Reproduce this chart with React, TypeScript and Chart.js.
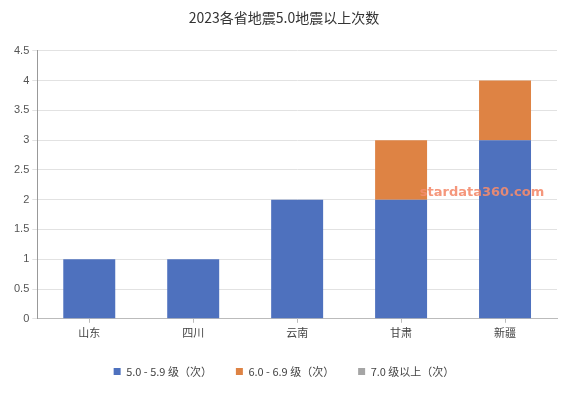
import React, { useEffect, useRef } from "react";
import { Chart, registerables } from "chart.js";

Chart.register(...registerables);

const title = "2023各省地震5.0地震以上次数";
const categories = ["山东", "四川", "云南", "甘肃", "新疆"];
const seriesNames = ["5.0 - 5.9 级（次）", "6.0 - 6.9 级（次）", "7.0 级以上（次）"];
const series1 = [1, 1, 2, 2, 3];
const series2 = [0, 0, 0, 1, 1];
const series3 = [0, 0, 0, 0, 0];
const colors = ["#4E71BE", "#DE8344", "#A5A5A5"];
const watermark = "stardata360.com";

const FONT = "'Noto Sans CJK SC', 'Noto Sans', sans-serif";

export default function App() {
  const ref = useRef<HTMLCanvasElement>(null);
  useEffect(() => {
    if (!ref.current) return;
    const wm = {
      id: "wm",
      afterDraw(chart: any) {
        const ctx = chart.ctx;
        const xs = chart.scales.x;
        const ys = chart.scales.y;
        ctx.save();
        ctx.font = "bold 13px 'DejaVu Sans', sans-serif";
        ctx.fillStyle = "rgba(244,140,110,0.9)";
        ctx.textAlign = "center";
        ctx.textBaseline = "middle";
        const x = (xs.getPixelForValue(3) + xs.getPixelForValue(4)) / 2 + 29;
        ctx.fillText(watermark, x, ys.getPixelForValue(2.12));
        ctx.restore();
      },
    };
    const data = [series1, series2, series3];
    const chart = new Chart(ref.current, {
      type: "bar",
      data: {
        labels: categories,
        datasets: seriesNames.map((n, i) => ({
          label: n,
          data: data[i],
          backgroundColor: colors[i],
          barPercentage: 0.5,
          categoryPercentage: 1,
        })),
      },
      options: {
        animation: false,
        responsive: false,
        layout: { padding: { left: 11, right: 17, top: 0, bottom: 8 } },
        plugins: {
          title: {
            display: true,
            text: title,
            color: "#333",
            font: { family: FONT, size: 14, weight: "normal" },
            padding: { top: 9, bottom: 25 },
          },
          legend: {
            position: "bottom",
            labels: {
              boxWidth: 7,
              boxHeight: 7,
              color: "#444",
              font: { family: FONT, size: 11 },
              padding: 24,
            },
          },
          tooltip: { enabled: false },
        },
        scales: {
          x: {
            stacked: true,
            grid: { display: true, drawOnChartArea: false, offset: false, tickLength: 4, color: "#bbb" },
            border: { color: "#bbb" },
            ticks: { color: "#444", font: { family: FONT, size: 11 }, padding: 3 },
          },
          y: {
            stacked: true,
            min: 0,
            max: 4.5,
            ticks: {
              stepSize: 0.5,
              color: "#555",
              font: { family: "'Liberation Sans', Arial, sans-serif", size: 11 },
              padding: 3,
              callback: (v: any) => String(Number(v)),
            },
            grid: { color: "#e2e2e2", tickLength: 5 },
            border: { color: "#999" },
          },
        },
      },
      plugins: [wm],
    });
    return () => chart.destroy();
  }, []);
  return (
    <div style={{ position: "fixed", left: 0, top: 0, width: 574, height: 395, background: "#fff" }}>
      <canvas ref={ref} width={574} height={395} />
    </div>
  );
}
